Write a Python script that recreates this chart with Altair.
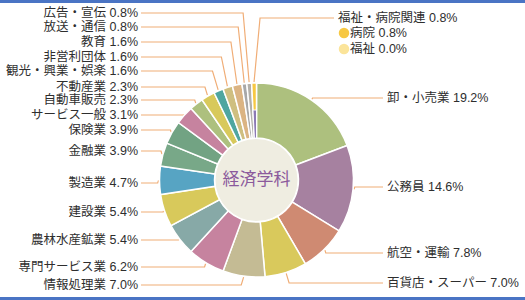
import math
import altair as alt
import pandas as pd

# ---- data ----
categories = ["卸・小売業", "公務員", "航空・運輸", "百貨店・スーパー", "情報処理業",
              "専門サービス業", "農林水産鉱業", "建設業", "製造業", "金融業", "保険業",
              "サービス一般", "自動車販売", "不動産業", "観光・興業・娯楽", "非営利団体",
              "教育", "放送・通信", "広告・宣伝", "福祉・病院関連"]
shares = [19.2, 14.6, 7.8, 7.0, 7.0, 6.2, 5.4, 5.4, 4.7, 3.9, 3.9,
          3.1, 2.3, 2.3, 1.6, 1.6, 1.6, 0.8, 0.8, 0.8]
sub_labels = ["病院", "福祉"]
sub_values = [0.8, 0.0]
center_title = "経済学科"

# ---- styles ----
colors = ["#adc07e", "#a681a0", "#cf8a72", "#d9c95c", "#c4bb94", "#c6839f", "#87a9a7",
          "#d8c95b", "#57a4c3", "#78a888", "#72a383", "#c6839f", "#adc07e", "#d8c95b",
          "#4fa6a0", "#cfbf80", "#dbb483", "#a8a8a8", "#b3b0aa", "#f7c843"]
inner_sub_color = "#8c7ab5"
sub_colors = ["#f7c843", "#fbe49a"]
line_color = "#f0ad76"
text_color = "#2e2e2e"
font = "Liberation Sans, Noto Sans CJK JP"
cjk_font = "Noto Sans CJK JP"

# ---- layout ----
W, H = 525, 300
CX, CY = 256.5, 180
R_OUT, R_IN, R_MID, R_DISK = 97, 42, 70, 41
label_side = ["R", "R", "R", "R"] + ["L"] * 15 + ["R"]
label_y = [98, 187, 253, 283, 285, 267, 240, 212, 183, 151, 130,
           115, 100, 87, 71, 57, 42, 27, 13, 18]
label_x = [387, 387, 387, 387] + [138] * 15 + [338]
sub_y = [33, 49]

# ---- tables ----
pie = pd.DataFrame({"cat": categories, "v": shares, "col": colors,
                    "idx": list(range(len(categories)))})
pie["inner"] = [inner_sub_color if c == "福祉・病院関連" else "#ffffff" for c in categories]
pie["inop"] = [1 if c == "福祉・病院関連" else 0 for c in categories]

total = sum(shares)
rows, txt = [], []
cum = 0.0
for i, (c, v) in enumerate(zip(categories, shares)):
    mid = (cum + v / 2) / total * 2 * math.pi
    cum += v
    ax = CX + (R_OUT + 1) * math.sin(mid)
    ay = CY - (R_OUT + 1) * math.cos(mid)
    ly = label_y[i]
    dy = abs(ay - ly)
    off = min(6.0, 0.3 * dy)
    if label_side[i] == "L":
        sx = label_x[i] + 3
        ex = ax - off
    else:
        sx = label_x[i] - 4
        ex = ax + off
    for s, (px, py) in enumerate([(sx, ly), (ex, ly), (ax, ay)]):
        rows.append({"cat": c, "seq": s, "px": px, "py": py})
    txt.append({"cat": c, "t": f"{c} {v:.1f}%", "tx": label_x[i], "ty": ly,
                "side": label_side[i]})
lines = pd.DataFrame(rows)
texts = pd.DataFrame(txt)
subs = pd.DataFrame({"t": [f"{a} {b:.1f}%" for a, b in zip(sub_labels, sub_values)],
                     "tx": [350, 350], "dx": [344, 344], "ty": sub_y, "col": sub_colors})

xs = alt.Scale(domain=[0, W], nice=False, zero=False)
ys = alt.Scale(domain=[H, 0], nice=False, zero=False)

ring = alt.Chart(pie).mark_arc(radius=R_OUT, innerRadius=R_IN, stroke="white",
                               strokeWidth=1.5).encode(
    theta=alt.Theta("v:Q", stack=True),
    order=alt.Order("idx:Q"),
    color=alt.Color("col:N", scale=None, legend=None),
    x=alt.value(CX), y=alt.value(CY))

inner = alt.Chart(pie).mark_arc(radius=R_MID, innerRadius=R_IN, stroke="white",
                                strokeWidth=1.0).encode(
    theta=alt.Theta("v:Q", stack=True),
    order=alt.Order("idx:Q"),
    color=alt.Color("inner:N", scale=None, legend=None),
    opacity=alt.Opacity("inop:Q", scale=None),
    x=alt.value(CX), y=alt.value(CY))

disk = alt.Chart(pd.DataFrame({"a": [0]})).mark_arc(
    theta=0, theta2=2 * math.pi, radius=R_DISK, color="#efede1").encode(
    x=alt.value(CX), y=alt.value(CY))

ctext = alt.Chart(pd.DataFrame({"t": [center_title]})).mark_text(
    font=cjk_font, fontSize=17, color="#8b5a9c", baseline="middle", align="center").encode(
    text="t:N", x=alt.value(CX), y=alt.value(CY))

leader = alt.Chart(lines).mark_line(color=line_color, strokeWidth=1.2).encode(
    x=alt.X("px:Q", scale=xs, axis=None),
    y=alt.Y("py:Q", scale=ys, axis=None),
    detail="cat:N", order="seq:Q")

ltext = alt.Chart(texts).transform_filter("datum.side == 'L'").mark_text(
    font=font, fontSize=12.5, color=text_color, align="right", baseline="middle").encode(
    x=alt.X("tx:Q", scale=xs, axis=None), y=alt.Y("ty:Q", scale=ys, axis=None), text="t:N")

rtext = alt.Chart(texts).transform_filter("datum.side == 'R'").mark_text(
    font=font, fontSize=12.5, color=text_color, align="left", baseline="middle").encode(
    x=alt.X("tx:Q", scale=xs, axis=None), y=alt.Y("ty:Q", scale=ys, axis=None), text="t:N")

sdots = alt.Chart(subs).mark_point(filled=True, size=110, shape="circle", opacity=1).encode(
    x=alt.X("dx:Q", scale=xs, axis=None), y=alt.Y("ty:Q", scale=ys, axis=None),
    color=alt.Color("col:N", scale=None, legend=None))

stext = alt.Chart(subs).mark_text(
    font=font, fontSize=12.5, color=text_color, align="left", baseline="middle").encode(
    x=alt.X("tx:Q", scale=xs, axis=None), y=alt.Y("ty:Q", scale=ys, axis=None), text="t:N")

bar_top = alt.Chart(pd.DataFrame({"a": [0]})).mark_rect(color="#4a74c4").encode(
    x=alt.value(0), x2=alt.value(W), y=alt.value(0), y2=alt.value(3))
bar_bot = alt.Chart(pd.DataFrame({"a": [0]})).mark_rect(color="#4a74c4").encode(
    x=alt.value(0), x2=alt.value(W), y=alt.value(297), y2=alt.value(300))

chart = alt.layer(leader, ring, inner, disk, ctext, ltext, rtext, sdots, stext,
                  bar_top, bar_bot).properties(
    width=W, height=H, padding=0, autosize=alt.AutoSizeParams(type="none"),
    background="white"
).configure_view(stroke=None)

chart.save("out.html", embed_options={"renderer": "svg", "actions": False})
